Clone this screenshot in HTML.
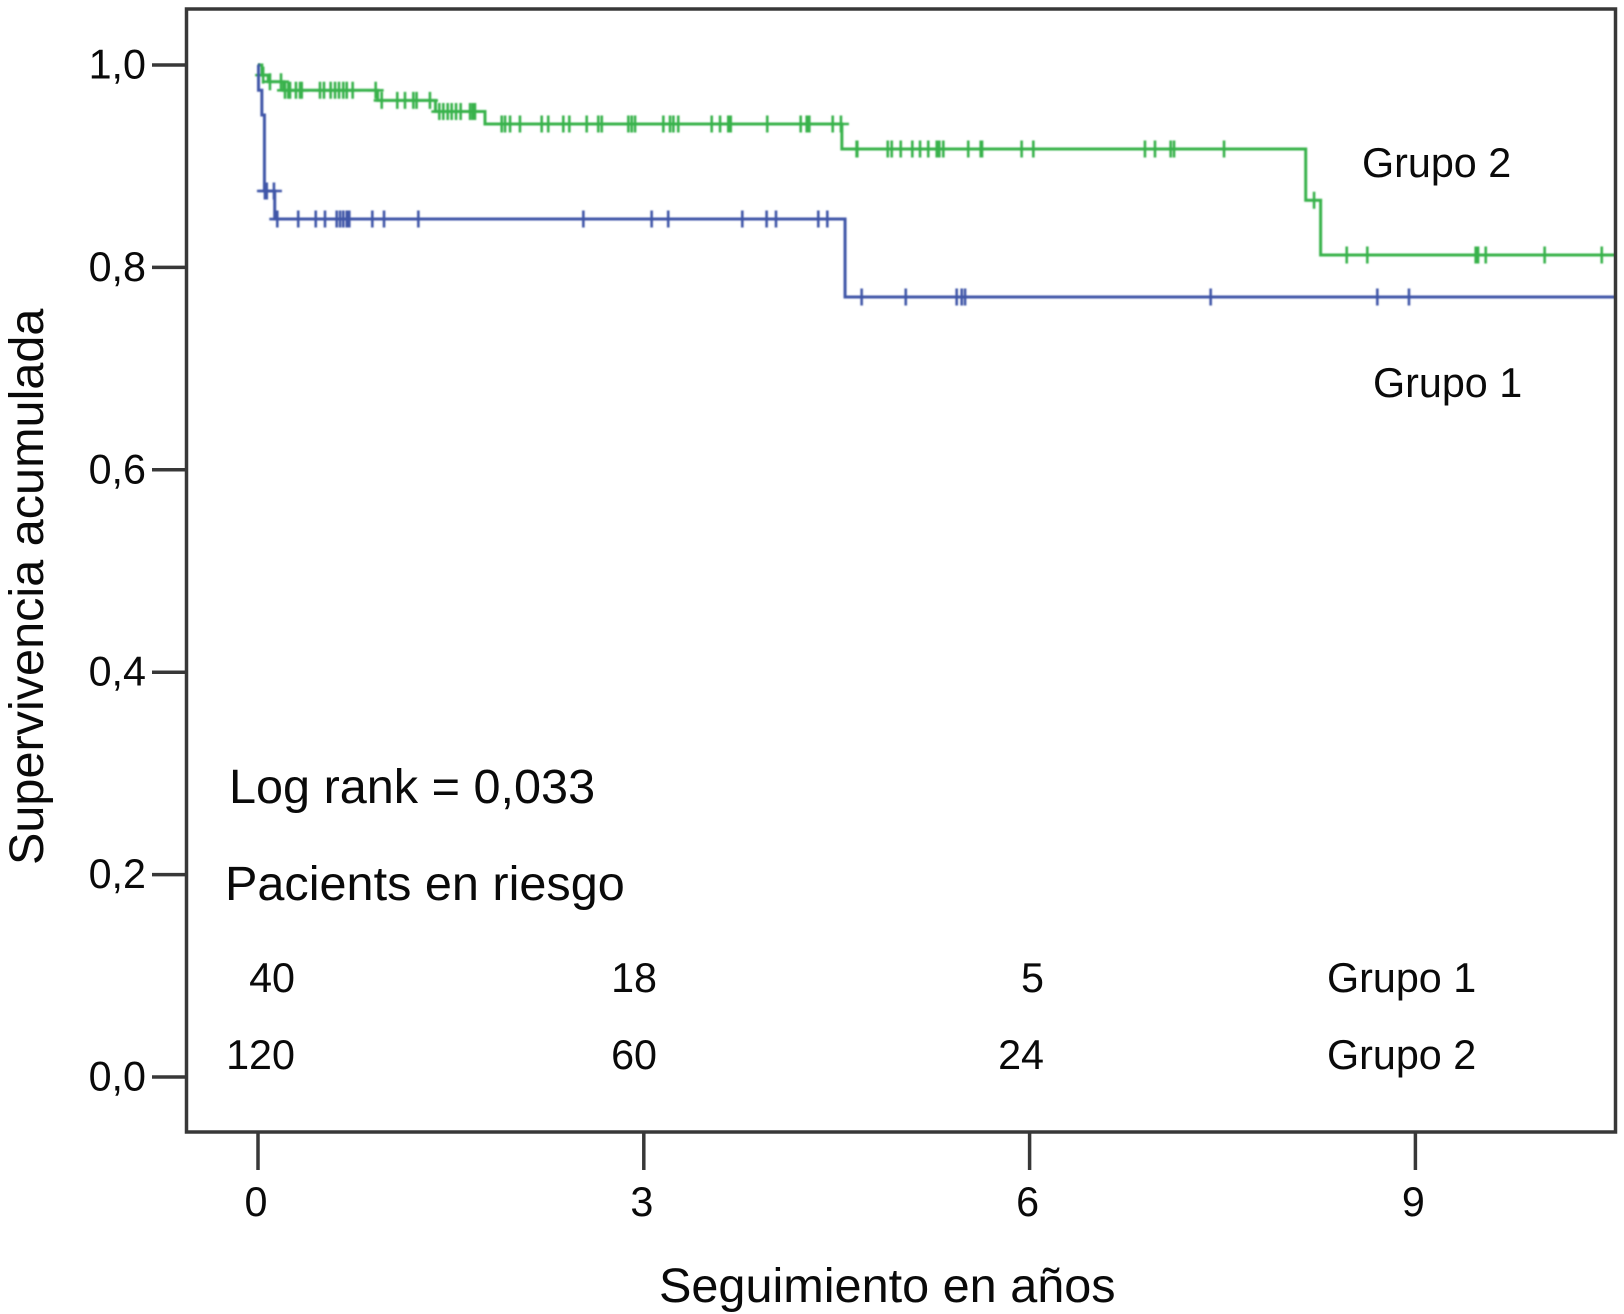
<!DOCTYPE html>
<html lang="es">
<head>
<meta charset="utf-8">
<title>Supervivencia acumulada</title>
<style>
  html, body { margin: 0; padding: 0; background: #fff; }
  svg { display: block; }
  text { font-family: "Liberation Sans", sans-serif; fill: #0a0a0a; }
  .big { font-size: 48.6px; }
  .mid { font-size: 41.3px; }
</style>
</head>
<body>
<svg id="chart" xmlns="http://www.w3.org/2000/svg" width="1624" height="1314" viewBox="0 0 1624 1314">
  <defs>
    <filter id="soft" x="-2%" y="-2%" width="104%" height="104%"><feGaussianBlur stdDeviation="0.7"/></filter>
    <clipPath id="plot-clip"><rect x="186" y="9" width="1429" height="1123"/></clipPath>
  </defs>
  <rect x="0" y="0" width="1624" height="1314" fill="#fff"/>
  <g id="series" clip-path="url(#plot-clip)"></g>
  <g id="axes"></g>
  <rect x="186.5" y="9" width="1429" height="1123" fill="none" stroke="#383838" stroke-width="3.5"/>
  <text class="big" transform="translate(43 865) rotate(-90)">Supervivencia acumulada</text>
  <text class="big" x="659" y="1302">Seguimiento en años</text>
  <text class="mid" x="1362" y="177">Grupo 2</text>
  <text class="mid" x="1373" y="397">Grupo 1</text>
  <text class="big" x="229" y="803">Log rank = 0,033</text>
  <text class="big" x="225" y="900">Pacients en riesgo</text>
  <g id="risk"></g>
</svg>
<script>
const xTicks = [0, 3, 6, 9];
const yTicks = [0, 0.2, 0.4, 0.6, 0.8, 1.0];
const yTickLabels = ["0,0", "0,2", "0,4", "0,6", "0,8", "1,0"];
const xEnd = 10.56;

const grupo1Times = [0, 0.004, 0.03, 0.05, 0.13, 4.565];
const grupo1Surv = [1.0, 0.975, 0.9506, 0.8755, 0.8478, 0.7708];
const grupo1Censored = [0.054, 0.068, 0.124, 0.15, 0.313, 0.449, 0.521, 0.612, 0.638, 0.663, 0.69, 0.71, 0.889, 0.98, 1.247, 2.53, 3.061, 3.19, 3.766, 3.955, 4.028, 4.357, 4.427, 4.694, 5.037, 5.433, 5.472, 5.498, 7.408, 8.704, 8.95];

const grupo2Times = [0, 0.03, 0.08, 0.2, 0.93, 1.38, 1.765, 4.54, 8.147, 8.263];
const grupo2Surv = [1.0, 0.99, 0.9835, 0.975, 0.965, 0.954, 0.9417, 0.917, 0.8663, 0.8123];
const grupo2Censored = [0.04, 0.093, 0.179, 0.21, 0.236, 0.249, 0.295, 0.327, 0.34, 0.482, 0.513, 0.565, 0.599, 0.63, 0.663, 0.69, 0.736, 0.915, 0.962, 1.083, 1.143, 1.208, 1.233, 1.337, 1.41, 1.441, 1.475, 1.506, 1.54, 1.576, 1.649, 1.67, 1.687, 1.895, 1.921, 1.96, 2.037, 2.206, 2.257, 2.374, 2.421, 2.556, 2.646, 2.673, 2.88, 2.906, 2.932, 3.152, 3.204, 3.23, 3.268, 3.528, 3.593, 3.657, 3.676, 3.96, 4.22, 4.267, 4.287, 4.469, 4.533, 4.655, 4.66, 4.897, 4.928, 4.998, 5.088, 5.148, 5.212, 5.278, 5.298, 5.329, 5.523, 5.62, 5.63, 5.938, 6.029, 6.897, 6.975, 7.097, 7.123, 7.512, 8.212, 8.466, 8.626, 9.469, 9.487, 9.547, 10.005, 10.449];

const riskGrupo1 = ["40", "18", "5"];
const riskGrupo2 = ["120", "60", "24"];
const riskRowLabels = ["Grupo 1", "Grupo 2"];

const NS = "http://www.w3.org/2000/svg";
function xScale(t) { return 258 + t * 128.6; }
function yScale(s) { return 1077 - s * 1012; }

function make(parent, tag, attrs) {
  const el = document.createElementNS(NS, tag);
  for (const k in attrs) el.setAttribute(k, attrs[k]);
  parent.appendChild(el);
  return el;
}

function survivalAt(times, surv, t) {
  let s = surv[0];
  for (let i = 0; i < times.length; i++) if (times[i] <= t) s = surv[i];
  return s;
}

function drawSeries(parent, name, color, times, surv, censored) {
  const g = make(parent, "g", { filter: "url(#soft)" });
  
  
  let d = "M" + xScale(times[0]) + " " + yScale(surv[0]);
  for (let i = 1; i < times.length; i++) {
    d += " H" + xScale(times[i]) + " V" + yScale(surv[i]);
  }
  d += " H" + xScale(xEnd);
  const line = make(g, "path", { d: d, fill: "none", stroke: color, "stroke-width": 3 });
  
  
  censored.forEach(function (t) {
    const cx = xScale(t), cy = yScale(survivalAt(times, surv, t));
    const m = make(g, "path", {
      d: "M" + cx + " " + (cy - 8.5) + " V" + (cy + 8.5) + " M" + (cx - 8) + " " + cy + " H" + (cx + 8),
      fill: "none", stroke: color, "stroke-width": 2.6
    });
    
    
  });
}

function drawAxes(parent) {
  xTicks.forEach(function (t) {
    const px = xScale(t);
    const tick = make(parent, "line", { x1: px, x2: px, y1: 1132, y2: 1170, stroke: "#383838", "stroke-width": 3.5 });
    
    
    const label = make(parent, "text", { x: px - 2, y: 1216, "text-anchor": "middle", "font-size": 41.3 });
    
    
    label.textContent = String(t);
  });
  yTicks.forEach(function (v, i) {
    const py = yScale(v);
    const tick = make(parent, "line", { x1: 152, x2: 186, y1: py, y2: py, stroke: "#383838", "stroke-width": 3.5 });
    
    
    const label = make(parent, "text", { x: 146, y: py + 13.5, "text-anchor": "end", "font-size": 41.3 });
    
    
    label.textContent = yTickLabels[i];
  });
}

function drawRisk(parent) {
  const colRight = [295, 657, 1044];
  const rowBase = [992, 1069];
  [riskGrupo1, riskGrupo2].forEach(function (row, r) {
    row.forEach(function (v, c) {
      const n = make(parent, "text", { x: colRight[c], y: rowBase[r], "text-anchor": "end", "font-size": 41.3 });
      
      
      n.textContent = v;
    });
    const lab = make(parent, "text", { x: 1327, y: rowBase[r], "font-size": 41.3 });
    
    
    lab.textContent = riskRowLabels[r];
  });
}

const seriesLayer = document.getElementById("series");
drawSeries(seriesLayer, "grupo-2", "#38b24c", grupo2Times, grupo2Surv, grupo2Censored);
drawSeries(seriesLayer, "grupo-1", "#4056a8", grupo1Times, grupo1Surv, grupo1Censored);
drawAxes(document.getElementById("axes"));
drawRisk(document.getElementById("risk"));
</script>
</body>
</html>
